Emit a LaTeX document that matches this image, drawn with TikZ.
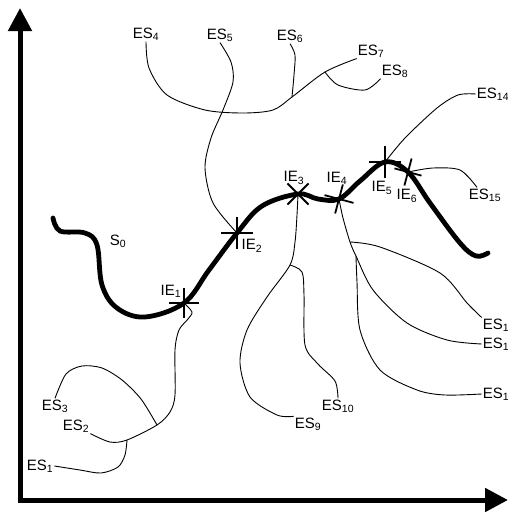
\documentclass[tikz,border=0pt]{standalone}
\usepackage{fontspec}
\setmainfont{Liberation Sans}
\usetikzlibrary{arrows.meta,calc}
\def\crossmark(#1)(#2:#3){\draw[iemark] ($(#1)+(#2:#3)$) -- ($(#1)+(#2+180:#3)$); \draw[iemark] ($(#1)+(#2+90:#3)$) -- ($(#1)+(#2+270:#3)$);}
\tikzset{
	lbl/.style={inner sep=1pt, font=\fontsize{15}{17}\selectfont},
	axisline/.style={line width=5pt, -{Triangle[length=23pt,width=23pt]}},
	sline/.style={line width=4.8pt, line cap=round, line join=round},
	esline/.style={line width=0.9pt},
	iemark/.style={line width=1.8pt}
}

\begin{document}
\begin{tikzpicture}[x=1pt, y=-1pt]
	%%%%% START %%%%%
	\useasboundingbox (0,0) rectangle (508,512);
	
	\draw[axisline] (20,502.5) -- (20,8);
	\draw[axisline] (17.5,500) -- (508,500);
	
	\coordinate (ie1) at (184,303);
	\coordinate (ie2) at (237,233);
	\coordinate (ie3) at (298,194);
	\coordinate (ie4) at (339,199);
	\coordinate (ie5) at (385,162);
	\coordinate (ie6) at (408,172);
	
	\draw[sline] plot[smooth, tension=0.6] coordinates {(53,218) (60,231) (85,233) (97,245) (102,285) (117,308) (145,317) (ie1) (209,270) (ie2) (262,206) (ie3) (318,199) (ie4) (360,181) (ie5) (ie6) (430,203) (460,243) (476,256) (488,253)};
	
	\crossmark(ie1)(0:15)
	\crossmark(ie2)(0:16)
	\crossmark(ie3)(45:15)
	\crossmark(ie4)(15:15)
	\crossmark(ie5)(0:16)
	\crossmark(ie6)(15:14)
	
	\node[lbl] (s0) at (118,241) {S\textsubscript{0}};
	\node[lbl] (lie1) at (171,291) {IE\textsubscript{1}};
	\node[lbl] (lie2) at (252,246) {IE\textsubscript{2}};
	\node[lbl] (lie3) at (294,178) {IE\textsubscript{3}};
	\node[lbl] (lie4) at (337,178) {IE\textsubscript{4}};
	\node[lbl] (lie5) at (382,188) {IE\textsubscript{5}};
	\node[lbl] (lie6) at (407,196) {IE\textsubscript{6}};
	
	\node[lbl] (es1) at (40,466) {ES\textsubscript{1}};
	\node[lbl] (es2) at (76,426) {ES\textsubscript{2}};
	\node[lbl] (es3) at (55,406) {ES\textsubscript{3}};
	\node[lbl] (es4) at (146,34) {ES\textsubscript{4}};
	\node[lbl] (es5) at (220,35) {ES\textsubscript{5}};
	\node[lbl] (es6) at (290,36) {ES\textsubscript{6}};
	\node[lbl] (es7) at (371,51) {ES\textsubscript{7}};
	\node[lbl] (es8) at (395,71) {ES\textsubscript{8}};
	\node[lbl] (es9) at (308,424) {ES\textsubscript{9}};
	\node[lbl] (es10) at (338,406) {ES\textsubscript{10}};
	\node[lbl] (es11) at (496,325) {ES\textsubscript{1}};
	\node[lbl] (es12) at (496,344) {ES\textsubscript{1}};
	\node[lbl] (es13) at (496,394) {ES\textsubscript{1}};
	\node[lbl] (es14) at (493,94) {ES\textsubscript{14}};
	\node[lbl] (es15) at (485,195) {ES\textsubscript{15}};
	
	\coordinate (j2) at (127,440);
	\coordinate (j3) at (157,425);
	\coordinate (j6) at (292,97);
	\coordinate (j8) at (325,72);
	\coordinate (j10) at (290,265);
	\coordinate (j11) at (350,242);
	\coordinate (j13) at (356,256);
	
	% top tree
	\draw[esline] plot[smooth] coordinates {(es4.south) (149,68) (167,95) (205,110) (243,113) (273,110) (j6) (j8) (es7.south west)};
	\draw[esline] plot[smooth] coordinates {(es6.south) (295,55) (294,75) (j6)};
	\draw[esline] plot[smooth] coordinates {(j8) (338,85) (365,90) (es8.south west)};
	\draw[esline] plot[smooth] coordinates {(es5.south) (231,62) (233,82) (223,110) (211,138) (205,168) (213,203) (ie2)};
	
	% bottom left
	\draw[esline] plot[smooth] coordinates {(ie1) (192,312) (188,319) (179,330) (175,350) (175,395) (170,412) (j3) (j2) (110,442) (es2.south east)};
	\draw[esline] plot[smooth] coordinates {(es3.north) (66,374) (82,366) (102,368) (122,380) (141,399) (j3)};
	\draw[esline] plot[smooth] coordinates {(es1.east) (80,470) (101,473) (118,467) (125,455) (j2)};
	
	% from IE3
	\draw[esline] plot[smooth] coordinates {(ie3) (297,215) (295,242) (j10) (267,297) (247,330) (240,363) (250,397) (277,415) (es9.north west)};
	\draw[esline] plot[smooth] coordinates {(j10) (302,272) (304,295) (305,345) (318,364) (335,381) (es10.north)};
	
	% from IE4
	\draw[esline] plot[smooth] coordinates {(ie4) (343,218) (j11) (j13) (373,290) (407,323) (447,340) (es12.west)};
	\draw[esline] plot[smooth] coordinates {(j11) (380,247) (440,273) (467,303) (es11.north west)};
	\draw[esline] plot[smooth] coordinates {(j13) (357,282) (360,330) (380,370) (417,390) (445,395) (es13.west)};
	
	% from IE5 and IE6
	\draw[esline] plot[smooth] coordinates {(ie5) (405,138) (437,108) (458,95) (es14.west)};
	\draw[esline] plot[smooth] coordinates {(ie6) (433,168) (460,170) ([xshift=-8pt]es15.north)};
	
	%%%%% END %%%%%
\end{tikzpicture}
\end{document}
